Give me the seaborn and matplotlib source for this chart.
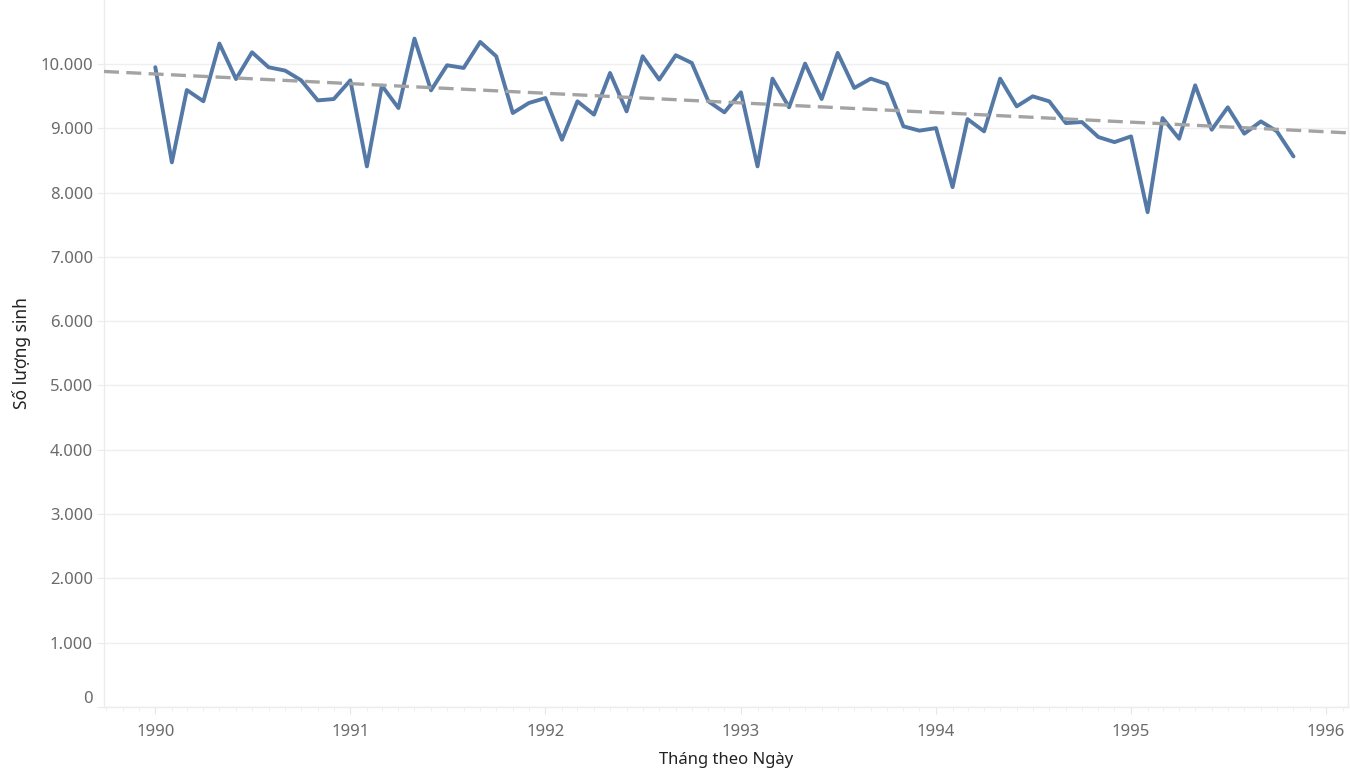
import numpy as np
import pandas as pd
import matplotlib
matplotlib.use("Agg")
import matplotlib.pyplot as plt
import matplotlib.dates as mdates
import matplotlib.transforms as mtransforms
from matplotlib.ticker import FuncFormatter
import seaborn as sns

# ---- data ----
start_month = "1990-01-01"
births = [9950, 8470, 9595, 9420, 10318, 9766, 10182, 9949, 9897, 9746, 9434, 9455,
          9746, 8407, 9663, 9315, 10395, 9590, 9980, 9938, 10343, 10120, 9237, 9393,
          9470, 8822, 9419, 9212, 9860, 9263, 10120, 9757, 10136, 10016, 9419, 9248,
          9559, 8407, 9772, 9326, 10006, 9455, 10172, 9627, 9772, 9688, 9030, 8963,
          9003, 8084, 9143, 8952, 9772, 9341, 9497, 9419, 9081, 9097, 8863, 8785,
          8874, 7695, 9159, 8838, 9668, 8978, 9326, 8916, 9107, 8952, 8562]
months = pd.date_range(start_month, periods=len(births), freq="MS")
df = pd.DataFrame({"Tháng": months, "Số lượng sinh": births})

x_title = "Tháng theo Ngày"
y_title = "Số lượng sinh"
y_ticks = list(range(0, 11000, 1000))

sns.set_theme(style="white")
plt.rcParams["font.family"] = ["Noto Sans", "DejaVu Sans"]

fig = plt.figure(figsize=(13.5, 7.84), dpi=100)
ax = fig.add_axes([104 / 1350, (784 - 707) / 784, (1348 - 104) / 1350, 707 / 784])

line_color = "#5479a6"
sns.lineplot(data=df, x="Tháng", y="Số lượng sinh", ax=ax, color=line_color,
             linewidth=2.8, zorder=3)

xmin = mdates.date2num(pd.Timestamp("1989-09-27"))
xmax = mdates.date2num(pd.Timestamp("1996-02-11"))
ax.set_xlim(xmin, xmax)
ax.set_ylim(0, 10995)

# linear trend over the data, extended across the pane
xn = mdates.date2num(df["Tháng"])
slope, intercept = np.polyfit(xn, df["Số lượng sinh"], 1)
tx = np.array([xmin, xmax])
ax.plot(tx, slope * tx + intercept, color="#a3a3a3", linewidth=2.4,
        linestyle=(0, (4.5, 2.2)), zorder=4)

# axes styling
ax.set_yticks(y_ticks)
ax.yaxis.set_major_formatter(FuncFormatter(lambda v, p: f"{int(v):,}".replace(",", ".")))
ax.grid(axis="y", color="#efefef", linewidth=1.0)
ax.grid(axis="x", visible=False)

ax.xaxis.set_major_locator(mdates.YearLocator())
ax.xaxis.set_major_formatter(mdates.DateFormatter("%Y"))
ax.xaxis.set_minor_locator(mdates.MonthLocator())

for s in ["left", "bottom", "right"]:
    ax.spines[s].set_visible(True)
    ax.spines[s].set_color("#ececec")
    ax.spines[s].set_linewidth(1.0)
ax.spines["top"].set_visible(False)

ax.tick_params(axis="y", which="major", length=5, width=0.8, color="#ececec",
               labelsize=12, labelcolor="#6b6b6b", pad=3, left=True)
ax.tick_params(axis="x", which="major", length=5, width=0.8, color="#e6e6e6",
               labelsize=12, labelcolor="#6b6b6b", pad=7, bottom=True)
ax.tick_params(axis="x", which="minor", length=3, width=0.6, color="#eeeeee", bottom=True)

ax.set_xlabel(x_title, fontsize=12, color="#222222", labelpad=9)
ax.set_ylabel(y_title, fontsize=12.5, color="#222222", labelpad=7)

# the bottom "0" label sits slightly above its gridline, as in the reference
fig.canvas.draw()
lab0 = ax.get_yticklabels()[0]
lab0.set_transform(lab0.get_transform() + mtransforms.ScaledTranslation(0, 10 / 100, fig.dpi_scale_trans))

fig.savefig("out.png", dpi=100, facecolor="white")
